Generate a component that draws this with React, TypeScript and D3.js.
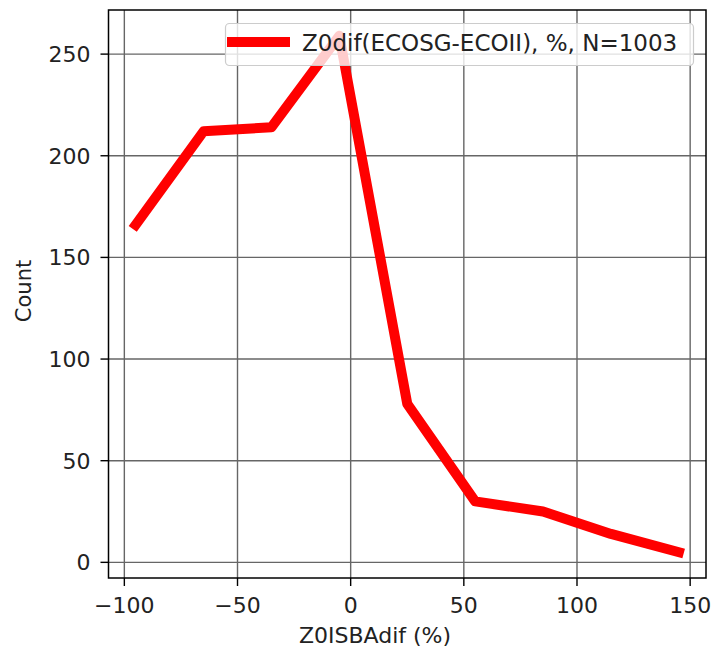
import React from 'react';
import * as d3 from 'd3';

// bin centres (%) and counts per bin
const binCentres = [-95, -65, -35, -5, 25, 55, 85, 115, 145];
const counts = [166, 212, 214, 259, 78, 30, 25, 14, 5];
const xTicks = [-100, -50, 0, 50, 100, 150];
const yTicks = [0, 50, 100, 150, 200, 250];
const legendLabel = 'Z0dif(ECOSG-ECOII), %, N=1003';

const W = 711;
const H = 654;
const left = 108.5, right = 706, top = 10, bottom = 578;
const font = 'DejaVu Sans, sans-serif';

export default function App() {
  // 5% margins like matplotlib
  const xPad = (d3.max(binCentres)! - d3.min(binCentres)!) * 0.05;
  const yPad = (d3.max(counts)! - d3.min(counts)!) * 0.05;
  const x = d3.scaleLinear()
    .domain([d3.min(binCentres)! - xPad, d3.max(binCentres)! + xPad])
    .range([left, right]);
  const y = d3.scaleLinear()
    .domain([d3.min(counts)! - yPad, d3.max(counts)! + yPad])
    .range([bottom, top]);

  const line = d3.line<number>()
    .x((d, i) => x(binCentres[i]))
    .y(d => y(d));

  return (
    <svg width={W} height={H} style={{ position: 'absolute', left: 0, top: 0, background: '#fff' }}
      fontFamily={font}>
      {/* grid */}
      {xTicks.map(t => (
        <line key={'gx' + t} x1={x(t)} x2={x(t)} y1={top} y2={bottom} stroke="#666" strokeWidth={1.4} />
      ))}
      {yTicks.map(t => (
        <line key={'gy' + t} x1={left} x2={right} y1={y(t)} y2={y(t)} stroke="#666" strokeWidth={1.4} />
      ))}

      <path d={line(counts) || ''} fill="none" stroke="#ff0000" strokeWidth={10}
        strokeLinejoin="round" strokeLinecap="square" />

      {/* frame */}
      <rect x={left} y={top} width={right - left} height={bottom - top} fill="none" stroke="#000" strokeWidth={1.5} />

      {/* x ticks */}
      {xTicks.map(t => (
        <g key={'xt' + t}>
          <line x1={x(t)} x2={x(t)} y1={bottom} y2={bottom + 8} stroke="#000" strokeWidth={1.4} />
          <text x={x(t)} y={613} fontSize={22} textAnchor="middle" fill="#222">
            {t < 0 ? '\u2212' + Math.abs(t) : t}
          </text>
        </g>
      ))}
      {/* y ticks */}
      {yTicks.map(t => (
        <g key={'yt' + t}>
          <line x1={left - 8} x2={left} y1={y(t)} y2={y(t)} stroke="#000" strokeWidth={1.4} />
          <text x={left - 18} y={y(t)} dy="0.36em" fontSize={22} textAnchor="end" fill="#222">{t}</text>
        </g>
      ))}

      <text x={375} y={643} fontSize={22} textAnchor="middle" fill="#222">Z0ISBAdif (%)</text>
      <text transform="translate(31,291) rotate(-90)" fontSize={21} textAnchor="middle" fill="#222">Count</text>

      {/* legend */}
      <g>
        <rect x={225.5} y={23.5} width={468} height={42} rx={4} fill="#fff" fillOpacity={0.8} stroke="#ccc" strokeWidth={1.2} />
        <line x1={232} x2={285} y1={42} y2={42} stroke="#ff0000" strokeWidth={10} strokeLinecap="square" />
        <text x={302} y={51} fontSize={23} fill="#222">{legendLabel}</text>
      </g>
    </svg>
  );
}
